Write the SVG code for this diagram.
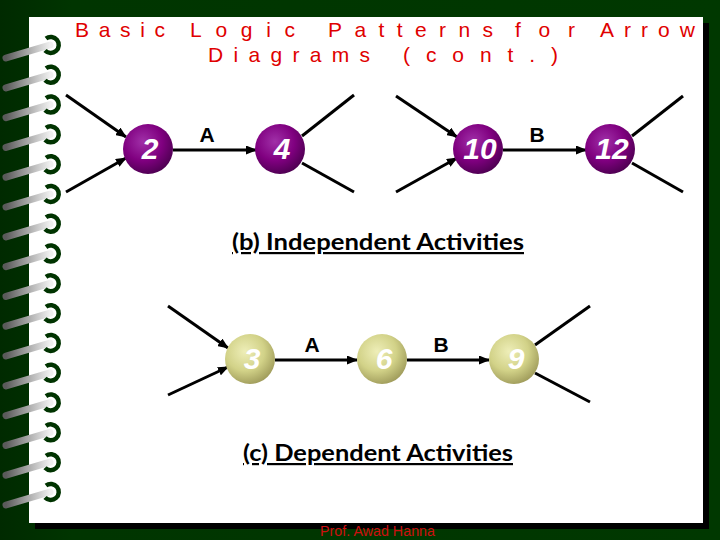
<svg xmlns="http://www.w3.org/2000/svg" width="720" height="540" viewBox="0 0 720 540">
<defs>
<linearGradient id="bg" x1="0" y1="0" x2="1" y2="0">
<stop offset="0" stop-color="#002a00"/>
<stop offset="0.1" stop-color="#003500"/>
<stop offset="1" stop-color="#003800"/>
</linearGradient>
<linearGradient id="bar" x1="0" y1="0" x2="1" y2="0">
<stop offset="0" stop-color="#5a5a5a"/>
<stop offset="0.6" stop-color="#b8b8b8"/>
<stop offset="1" stop-color="#f0f0f0"/>
</linearGradient>
<radialGradient id="purple" cx="0.4" cy="0.35" r="0.7">
<stop offset="0" stop-color="#a030a8"/>
<stop offset="0.55" stop-color="#800080"/>
<stop offset="1" stop-color="#4a004e"/>
</radialGradient>
<radialGradient id="yellow" cx="0.4" cy="0.35" r="0.7">
<stop offset="0" stop-color="#eeeeb8"/>
<stop offset="0.55" stop-color="#d2d288"/>
<stop offset="1" stop-color="#9c9858"/>
</radialGradient>
<marker id="ah" markerWidth="11" markerHeight="9" refX="10" refY="4.5" orient="auto" markerUnits="userSpaceOnUse">
<path d="M0,0 L11,4.5 L0,9 Z" fill="#000"/>
</marker>
<g id="ring">
<line x1="6" y1="13" x2="50" y2="0" stroke="url(#bar)" stroke-width="7" stroke-linecap="round"/>
<path d="M46,-6.5 A8,8 0 1 1 45,5.5" fill="none" stroke="#003300" stroke-width="4.5"/>
</g>
</defs>
<style>
.ln{stroke:#000;stroke-width:3;fill:none}
.ar{stroke:#000;stroke-width:3;fill:none;marker-end:url(#ah)}
.num{font-family:"Liberation Sans",Arial,sans-serif;font-weight:bold;font-style:italic;font-size:30px;fill:#fff;text-anchor:middle}
.lab{font-family:"Liberation Sans",Arial,sans-serif;font-weight:bold;font-size:21px;fill:#000;text-anchor:middle}
.sec{font-family:Lato,"Open Sans",sans-serif;font-weight:bold;font-size:22px;fill:#000;text-decoration:underline}
.ttl{font-family:"Liberation Sans",Arial,sans-serif;font-size:21px;fill:#e00000}
</style>
<rect width="720" height="540" fill="url(#bg)"/>
<rect x="35" y="23" width="674" height="506" fill="#000"/>
<rect x="29" y="17" width="674" height="506" fill="#fff"/>
<g id="binding">
<use href="#ring" y="45"/><use href="#ring" y="74.8"/><use href="#ring" y="104.6"/><use href="#ring" y="134.4"/>
<use href="#ring" y="164.2"/><use href="#ring" y="194"/><use href="#ring" y="223.8"/><use href="#ring" y="253.6"/>
<use href="#ring" y="283.4"/><use href="#ring" y="313.2"/><use href="#ring" y="343"/><use href="#ring" y="372.8"/>
<use href="#ring" y="402.6"/><use href="#ring" y="432.4"/><use href="#ring" y="462.2"/><use href="#ring" y="492"/>
</g>
<g id="title">
<text class="ttl" x="75" y="37" textLength="90" lengthAdjust="spacing">Basic</text>
<text class="ttl" x="190" y="37" textLength="105" lengthAdjust="spacing">Logic</text>
<text class="ttl" x="328" y="37" textLength="165" lengthAdjust="spacing">Patterns</text>
<text class="ttl" x="515" y="37" textLength="60" lengthAdjust="spacing">for</text>
<text class="ttl" x="600" y="37" textLength="95" lengthAdjust="spacing">Arrow</text>
<text class="ttl" x="208" y="62" textLength="162" lengthAdjust="spacing">Diagrams</text>
<text class="ttl" x="403" y="62" textLength="155" lengthAdjust="spacing">(cont.)</text>
</g>
<g id="connectors">
<line class="ar" x1="66" y1="95" x2="126" y2="137"/>
<line class="ar" x1="66" y1="192" x2="126" y2="158"/>
<line class="ar" x1="173" y1="150" x2="256" y2="150"/>
<line class="ln" x1="302" y1="136" x2="354" y2="95"/>
<line class="ln" x1="302" y1="163" x2="354" y2="192"/>
<line class="ar" x1="396" y1="96" x2="457" y2="137"/>
<line class="ar" x1="396" y1="192" x2="457" y2="158"/>
<line class="ar" x1="503" y1="150" x2="586" y2="150"/>
<line class="ln" x1="632" y1="136" x2="683" y2="96"/>
<line class="ln" x1="632" y1="163" x2="683" y2="192"/>
<line class="ar" x1="168" y1="306" x2="228" y2="348"/>
<line class="ar" x1="168" y1="395" x2="228" y2="367"/>
<line class="ar" x1="275" y1="360" x2="357" y2="360"/>
<line class="ar" x1="407" y1="360" x2="489" y2="360"/>
<line class="ln" x1="535" y1="345" x2="590" y2="306"/>
<line class="ln" x1="535" y1="373" x2="590" y2="402"/>
</g>
<g id="label-A1"><text class="lab" x="207" y="142">A</text></g>
<g id="label-B1"><text class="lab" x="537" y="142">B</text></g>
<g id="label-A2"><text class="lab" x="312" y="352">A</text></g>
<g id="label-B2"><text class="lab" x="441" y="352">B</text></g>
<g id="node-2"><circle cx="148" cy="149" r="25" fill="url(#purple)"/><text class="num" x="150" y="159">2</text></g>
<g id="node-4"><circle cx="280" cy="149" r="25" fill="url(#purple)"/><text class="num" x="282" y="159">4</text></g>
<g id="node-10"><circle cx="478" cy="149" r="25" fill="url(#purple)"/><text class="num" x="480" y="159">10</text></g>
<g id="node-12"><circle cx="610" cy="149" r="25" fill="url(#purple)"/><text class="num" x="612" y="159">12</text></g>
<g id="node-3"><circle cx="250" cy="359" r="25" fill="url(#yellow)"/><text class="num" x="252" y="369">3</text></g>
<g id="node-6"><circle cx="382" cy="359" r="25" fill="url(#yellow)"/><text class="num" x="384" y="369">6</text></g>
<g id="node-9"><circle cx="514" cy="359" r="25" fill="url(#yellow)"/><text class="num" x="516" y="369">9</text></g>
<g id="caption-b"><text class="sec" x="232" y="250" textLength="292" lengthAdjust="spacingAndGlyphs">(b) Independent Activities</text></g>
<g id="caption-c"><text class="sec" x="243" y="461" textLength="270" lengthAdjust="spacingAndGlyphs">(c) Dependent Activities</text></g>
<g id="footer"><text x="320" y="536" textLength="115" lengthAdjust="spacingAndGlyphs" font-family="Liberation Sans,Arial,sans-serif" font-size="14" fill="#cc1010">Prof. Awad Hanna</text></g>
</svg>
